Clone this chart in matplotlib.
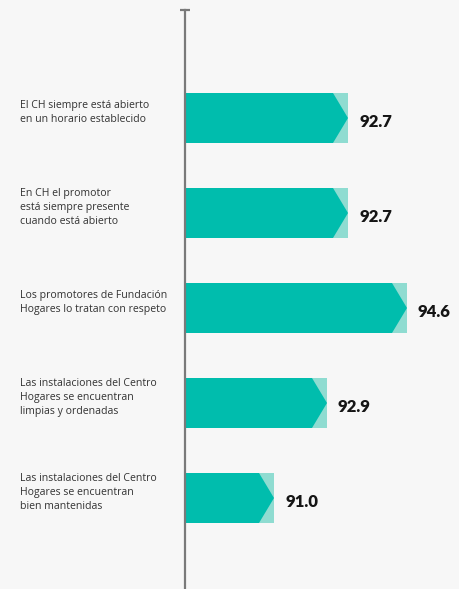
"""
Barras horizontales tipo chevron - percepcion del Centro Hogares
"""
import matplotlib
matplotlib.use('Agg')
import matplotlib.pyplot as plt
from matplotlib.patches import Rectangle, Polygon

# Data
labels = [
    'El CH siempre está abierto\nen un horario establecido',
    'En CH el promotor\nestá siempre presente\ncuando está abierto',
    'Los promotores de Fundación\nHogares lo tratan con respeto',
    'Las instalaciones del Centro\nHogares se encuentran\nlimpias y ordenadas',
    'Las instalaciones del Centro\nHogares se encuentran\nbien mantenidas',
]
values = [92.7, 92.7, 94.6, 92.9, 91.0]
# bar lengths as drawn in the artwork (not proportional to values)
bar_len = [163, 163, 222, 142, 89]

# Colors
BG = '#f7f7f7'
DARK = '#00bdad'
LIGHT = '#8fdcd1'
AXIS = '#7a7a7a'

W, H = 459, 589
fig = plt.figure(figsize=(W / 100, H / 100), dpi=100, facecolor=BG)

# axes starts at the vertical line (x=185px), top cap at y=10px
x0, ytop = 185, 10
ax = fig.add_axes([x0 / W, 0, (W - x0) / W, (H - ytop) / H])
ax.set_facecolor(BG)
ax.set_xlim(0, W - x0)
step, c0 = 95, 118  # px between bars, px of first bar center
ax.set_ylim((H - c0) / step, (ytop - c0) / step)

bh = 50 / step   # bar height
tip = 15         # chevron width

for i, (lab, v, L) in enumerate(zip(labels, values, bar_len)):
    top, bot = i - bh / 2, i + bh / 2
    ax.add_patch(Rectangle((L - tip, top), tip, bh, facecolor=LIGHT,
                           edgecolor='none'))
    ax.add_patch(Polygon([(0, top), (L - tip, top), (L, i), (L - tip, bot),
                          (0, bot)], closed=True, facecolor=DARK,
                         edgecolor='none'))
    ax.text(L + 11, i + 0.04, f'{v:.1f}', ha='left', va='center',
            fontsize=12, fontweight='heavy', color='#151515', family='Lato')
    ax.text(20 - x0, i - 0.06, lab, ha='left', va='center', fontsize=7.6,
            color='#333333', family='Open Sans', linespacing=1.4)

# vertical axis line with top cap
for s in ['top', 'right', 'bottom']:
    ax.spines[s].set_visible(False)
ax.spines['left'].set_color(AXIS)
ax.spines['left'].set_linewidth(1.6)
ylo, yhi = ax.get_ylim()
ax.plot([-5, 5], [yhi, yhi], color=AXIS, lw=1.6, clip_on=False,
        solid_capstyle='butt')
ax.set_xticks([])
ax.set_yticks([])

plt.savefig('out.png', dpi=100, facecolor=BG)
plt.close()
